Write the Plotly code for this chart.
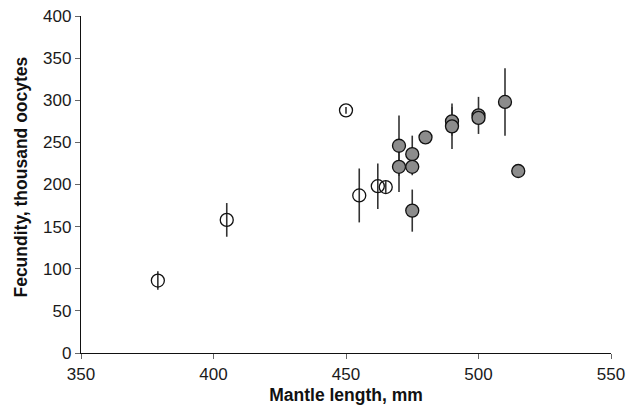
import plotly.graph_objects as go

# Specimens without measured error (open) and with replicate counts (filled)
open_length = [379, 405, 450, 455, 462, 465]
open_fecundity = [86, 158, 288, 187, 198, 197]
open_sd = [11, 20, 4, 32, 27, 7]

filled_length = [470, 470, 475, 475, 475, 480, 490, 490, 500, 500, 510, 515]
filled_fecundity = [246, 221, 236, 221, 169, 256, 275, 269, 282, 279, 298, 216]
filled_sd = [36, 30, 22, 10, 25, 0, 17, 27, 22, 6, 40, 0]

x_ticks = [350, 400, 450, 500, 550]
y_ticks = [0, 50, 100, 150, 200, 250, 300, 350, 400]

font_family = "Liberation Sans, Arial, sans-serif"

fig = go.Figure()

fig.add_trace(go.Scatter(
    x=open_length, y=open_fecundity, mode="markers",
    marker=dict(symbol="circle-open", size=13, color="#111111",
                line=dict(width=1.3, color="#111111")),
    error_y=dict(type="data", array=open_sd, visible=True,
                 color="#333333", thickness=1.6, width=0),
    showlegend=False,
))

fig.add_trace(go.Scatter(
    x=filled_length, y=filled_fecundity, mode="markers",
    marker=dict(symbol="circle", size=13, color="#8c8c8c",
                line=dict(width=1.3, color="#111111")),
    error_y=dict(type="data", array=filled_sd, visible=True,
                 color="#333333", thickness=1.6, width=0),
    showlegend=False,
))

fig.update_layout(
    width=628, height=406,
    margin=dict(l=81, r=17, t=16, b=53),
    paper_bgcolor="white", plot_bgcolor="white",
    font=dict(family=font_family, size=17, color="#1a1a1a"),
)

fig.update_xaxes(
    range=[350, 550], tickvals=x_ticks, ticktext=[str(v) for v in x_ticks],
    showgrid=False, zeroline=False,
    showline=True, linecolor="#111111", linewidth=1.3,
    ticks="outside", ticklen=5, tickcolor="#666666", tickwidth=1,
    tickfont=dict(size=17),
    title=dict(text="<b>Mantle length, mm</b>", font=dict(size=17.5, color="#111111"), standoff=6),
    automargin=False,
)
fig.update_yaxes(
    range=[0, 400], tickvals=y_ticks, ticktext=[str(v) for v in y_ticks],
    showgrid=False, zeroline=False,
    showline=True, linecolor="#111111", linewidth=1.3,
    ticks="outside", ticklen=5, tickcolor="#666666", tickwidth=1,
    tickfont=dict(size=17),
    automargin=False,
)

# Vertical axis title, placed slightly above the plot's mid-height
fig.add_annotation(
    text="<b>Fecundity, thousand oocytes</b>",
    xref="paper", yref="paper", x=-0.113, y=0.521,
    xanchor="center", yanchor="middle", textangle=-90, showarrow=False,
    font=dict(size=17.5, color="#111111"),
)

fig.write_html("out.html")
